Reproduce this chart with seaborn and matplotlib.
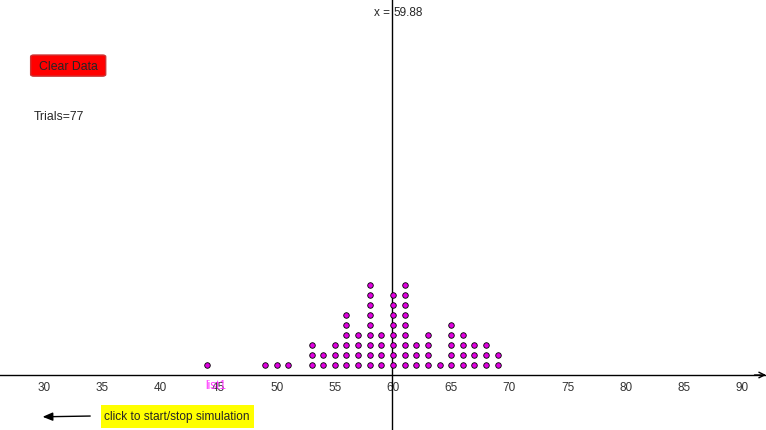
import matplotlib
matplotlib.use("Agg")
import matplotlib.pyplot as plt
import matplotlib.patches as mpatches
import numpy as np
import pandas as pd
import seaborn as sns

# Valores simulados y cuántas veces salió cada uno
values = [44, 49, 50, 51, 53, 54, 55, 56, 57, 58, 59, 60, 61, 62, 63, 64, 65, 66, 67, 68, 69]
counts = [1, 1, 1, 1, 3, 2, 3, 6, 4, 9, 4, 8, 9, 3, 4, 1, 5, 4, 3, 3, 2]
tick_values = [30, 35, 40, 45, 50, 55, 60, 65, 70, 75, 80, 85, 90]

# Una fila por punto, apilada por nivel
rows = []
for v, c in zip(values, counts):
    for level in range(1, c + 1):
        rows.append({"value": v, "level": level})
df = pd.DataFrame(rows)

trials = len(df)
mean_value = df["value"].mean()

sns.set_style("white")
plt.rcParams["font.family"] = ["Liberation Sans", "DejaVu Sans"]

fig = plt.figure(figsize=(7.66, 4.31), dpi=100)
ax = fig.add_axes([0, 0, 1, 1])

sns.scatterplot(
    data=df,
    x="value",
    y="level",
    color="#e000e0",
    edgecolor="black",
    linewidth=0.6,
    s=16,
    ax=ax,
    zorder=3
)

ax.set_xlim(26.22, 92.06)
ax.set_ylim(-5.5, 37.6)

# Eje horizontal tipo recta numérica
for side in ["top", "right", "left"]:
    ax.spines[side].set_visible(False)
ax.spines["bottom"].set_position(("data", 0))
ax.spines["bottom"].set_color("black")
ax.spines["bottom"].set_linewidth(1)
ax.set_xticks(tick_values)
ax.set_xticklabels([str(t) for t in tick_values])
ax.tick_params(axis="x", direction="out", length=3, width=0.8,
               labelsize=8.5, labelcolor="#333333", pad=1.5)
ax.set_yticks([])
ax.set_xlabel("")
ax.set_ylabel("")

ax.annotate("", xy=(1.0, 0), xycoords=("axes fraction", "data"),
            xytext=(0.985, 0), textcoords=("axes fraction", "data"),
            arrowprops=dict(arrowstyle="->", lw=1, color="black",
                            shrinkA=0, shrinkB=0))

# Línea de la media
ax.axvline(mean_value, color="black", lw=1, zorder=2)
ax.annotate("x =", xy=(mean_value, 1), xycoords=("data", "axes fraction"),
            xytext=(-1.5, -9), textcoords="offset points",
            ha="right", va="center", fontsize=8.5)
ax.annotate(f"{mean_value:.2f}", xy=(mean_value, 1), xycoords=("data", "axes fraction"),
            xytext=(1.2, -9), textcoords="offset points",
            ha="left", va="center", fontsize=8.5)

# Etiqueta de la lista
ax.annotate("list1", xy=(44.8, 0), xycoords="data",
            xytext=(0, -7.5), textcoords="offset points",
            ha="center", va="center", fontsize=8.5, color="#ff33ff")

# Botón "Clear Data"
button = mpatches.FancyBboxPatch(
    (0.040, 0.821), 0.098, 0.049,
    boxstyle="round,pad=0.0,rounding_size=0.004",
    transform=fig.transFigure,
    facecolor="#ff0000", edgecolor="#cc3333", lw=1
)
fig.patches.append(button)
fig.text(0.0888, 0.8445, "Clear Data", ha="center", va="center", fontsize=8.8)

fig.text(0.0444, 0.7285, f"Trials={trials}", ha="left", va="center", fontsize=8.8)

# Caja amarilla
box = mpatches.Rectangle((0.1319, 0.0046), 0.1997, 0.0534,
                         transform=fig.transFigure,
                         facecolor="#ffff00", edgecolor="none")
fig.patches.append(box)
fig.text(0.1358, 0.0325, "click to start/stop simulation",
         ha="left", va="center", fontsize=8.6)

fig.patches.append(mpatches.FancyArrowPatch(
    (0.1214, 0.0325), (0.052, 0.0305),
    transform=fig.transFigure,
    arrowstyle="-|>,head_length=6,head_width=2.5",
    color="black", lw=1
))

plt.savefig("out.png", dpi=100)
